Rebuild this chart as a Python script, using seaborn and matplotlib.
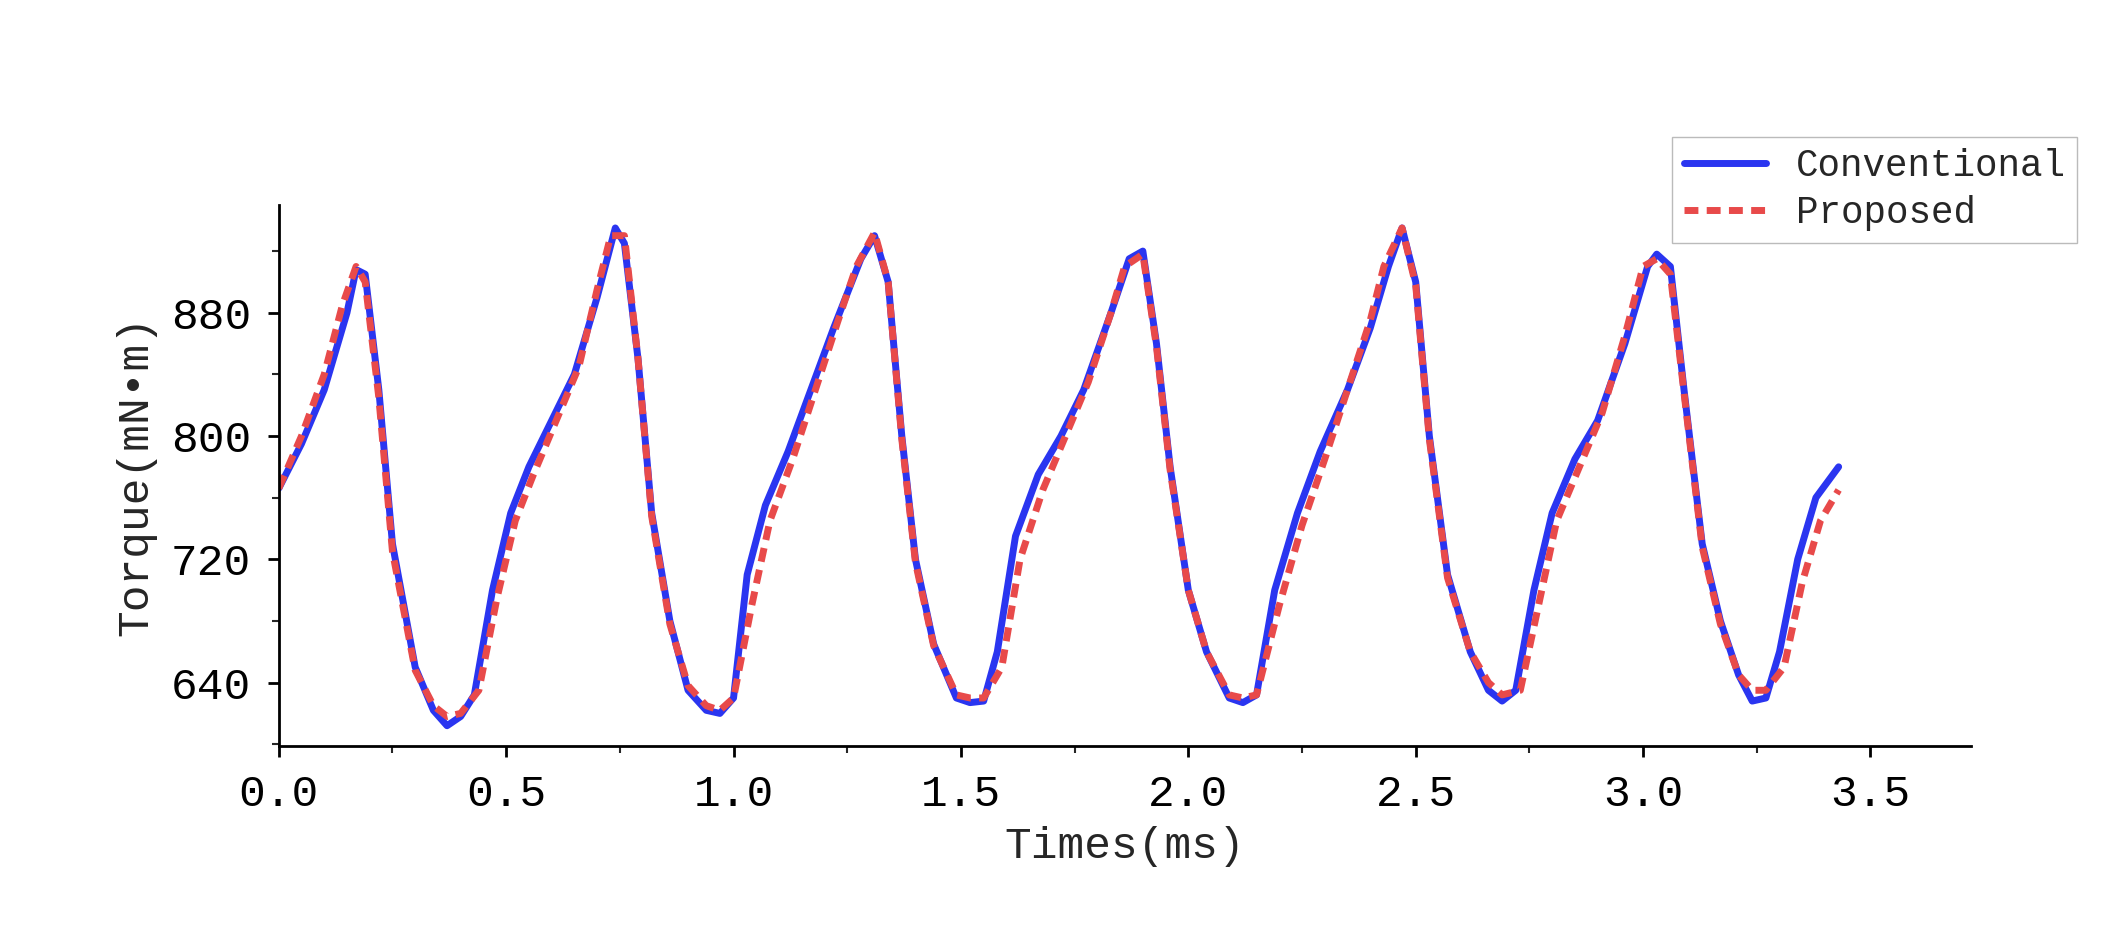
import numpy as np
import pandas as pd
import matplotlib
matplotlib.use('Agg')
import matplotlib.pyplot as plt
import seaborn as sns
from matplotlib.ticker import MultipleLocator
from matplotlib.lines import Line2D

# conventional torque (ms, mN*m)
t_conv = [0.00, 0.05, 0.10, 0.15, 0.17, 0.19, 0.22, 0.25, 0.30, 0.34, 0.37, 0.40, 0.43, 0.47, 0.51, 0.55,
          0.60, 0.65, 0.70, 0.74, 0.76, 0.79, 0.82, 0.86, 0.90, 0.94, 0.97, 1.00, 1.03, 1.07, 1.12, 1.17,
          1.22, 1.28, 1.31, 1.34, 1.37, 1.40, 1.44, 1.49, 1.52, 1.55, 1.58, 1.62, 1.67, 1.72, 1.77, 1.83,
          1.87, 1.90, 1.93, 1.96, 2.00, 2.04, 2.09, 2.12, 2.15, 2.19, 2.24, 2.29, 2.35, 2.40, 2.44, 2.47,
          2.50, 2.53, 2.57, 2.62, 2.66, 2.69, 2.72, 2.76, 2.80, 2.85, 2.90, 2.96, 3.01, 3.03, 3.06, 3.09,
          3.13, 3.17, 3.21, 3.24, 3.27, 3.30, 3.34, 3.38, 3.43]
v_conv = [766, 795, 830, 880, 908, 905, 830, 730, 650, 622, 612, 618, 632, 700, 750, 780,
          810, 840, 890, 935, 925, 850, 750, 680, 635, 622, 620, 630, 710, 755, 790, 830,
          870, 915, 930, 900, 800, 720, 665, 630, 627, 628, 660, 735, 775, 800, 830, 880,
          915, 920, 860, 780, 700, 660, 630, 627, 632, 700, 750, 790, 830, 870, 910, 935,
          900, 800, 710, 660, 635, 628, 635, 700, 750, 785, 810, 860, 910, 918, 910, 830,
          730, 680, 645, 628, 630, 660, 720, 760, 780]

# proposed torque
t_prop = [0.00, 0.05, 0.10, 0.14, 0.17, 0.19, 0.22, 0.25, 0.30, 0.34, 0.37, 0.40, 0.44, 0.48, 0.52, 0.56,
          0.61, 0.66, 0.70, 0.73, 0.76, 0.79, 0.82, 0.86, 0.90, 0.94, 0.97, 1.00, 1.04, 1.08, 1.13, 1.18,
          1.23, 1.27, 1.31, 1.34, 1.37, 1.40, 1.44, 1.49, 1.52, 1.55, 1.59, 1.63, 1.68, 1.73, 1.78, 1.83,
          1.86, 1.90, 1.93, 1.96, 2.00, 2.04, 2.09, 2.12, 2.15, 2.20, 2.25, 2.30, 2.35, 2.40, 2.43, 2.47,
          2.50, 2.53, 2.57, 2.62, 2.66, 2.69, 2.73, 2.77, 2.81, 2.86, 2.91, 2.96, 3.00, 3.03, 3.06, 3.09,
          3.13, 3.17, 3.21, 3.24, 3.27, 3.31, 3.35, 3.39, 3.43]
v_prop = [766, 800, 840, 885, 910, 900, 825, 725, 648, 625, 618, 620, 635, 695, 745, 775,
          810, 845, 895, 930, 930, 850, 748, 678, 638, 625, 622, 630, 690, 745, 785, 830,
          875, 910, 932, 900, 798, 718, 664, 632, 630, 630, 650, 720, 765, 800, 835, 880,
          910, 918, 858, 778, 700, 660, 632, 630, 632, 690, 742, 785, 830, 875, 910, 935,
          898, 798, 708, 660, 640, 632, 635, 690, 745, 780, 815, 865, 910, 915, 905, 828,
          728, 678, 645, 635, 635, 650, 705, 745, 765]

sns.set_theme(style='ticks')
plt.rcParams['font.family'] = ['Liberation Mono', 'DejaVu Sans']

df = pd.concat([
    pd.DataFrame({'t': t_conv, 'v': v_conv, 'series': 'Conventional'}),
    pd.DataFrame({'t': t_prop, 'v': v_prop, 'series': 'Proposed'}),
])

fig = plt.figure(figsize=(21.28, 9.44), dpi=100)
ax = fig.add_axes([0.131, 0.21, 0.795, 0.573])
sns.lineplot(data=df, x='t', y='v', hue='series', style='series',
             palette={'Conventional': '#2a35f0', 'Proposed': '#e84a4a'},
             dashes={'Conventional': '', 'Proposed': (2, 1.2)},
             linewidth=5, ax=ax, legend=False, estimator=None, sort=False)

ax.set_xlim(0, 3.72)
ax.set_ylim(599, 950)
ax.xaxis.set_major_locator(MultipleLocator(0.5))
ax.xaxis.set_minor_locator(MultipleLocator(0.25))
ax.yaxis.set_major_locator(MultipleLocator(80))
ax.yaxis.set_minor_locator(MultipleLocator(40))
ax.xaxis.set_major_formatter(matplotlib.ticker.FormatStrFormatter('%.1f'))
sns.despine(ax=ax)
for s in ['left', 'bottom']:
    ax.spines[s].set_linewidth(2)
    ax.spines[s].set_color('black')
ax.tick_params(which='major', length=8, width=2, labelsize=32, colors='black', direction='out', pad=12)
ax.tick_params(which='minor', length=5, width=1.5, direction='out')
ax.set_xlabel('Times(ms)', fontsize=32, labelpad=8)
ax.set_ylabel('Torque(mN•m)', fontsize=32, labelpad=10)

handles = [Line2D([], [], color='#2a35f0', lw=5),
           Line2D([], [], color='#e84a4a', lw=5, ls=(0, (2, 1.2)))]
fig.legend(handles, ['Conventional', 'Proposed'], loc='upper right',
           bbox_to_anchor=(0.985, 0.875), fontsize=27, frameon=True,
           fancybox=False, edgecolor='#aaaaaa', handlelength=2.2, borderpad=0.3,
           labelspacing=0.3)

fig.savefig('out.png', dpi=100)
